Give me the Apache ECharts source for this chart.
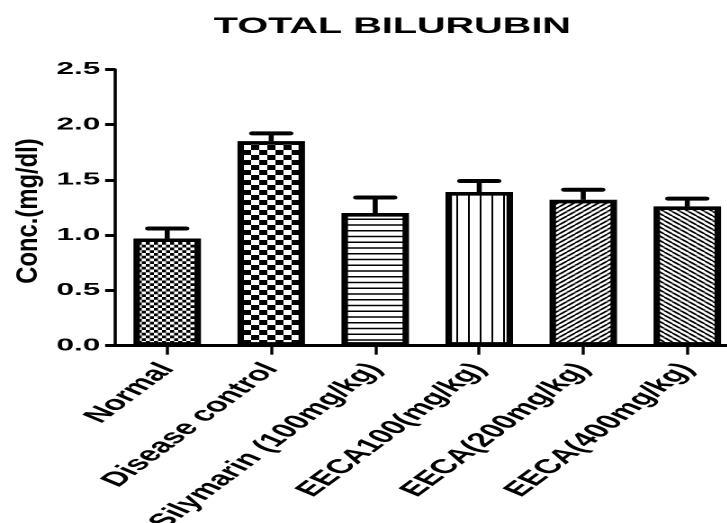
<!DOCTYPE html>
<html>
<head>
<meta charset="utf-8">
<script src="https://cdn.jsdelivr.net/npm/echarts@6/dist/echarts.min.js"></script>
<style>
  html, body { margin: 0; padding: 0; background: #fff; overflow: hidden; width: 727px; height: 523px; }
  #wrap { width: 727px; height: 523px; overflow: hidden; position: relative; }
  /* the figure is laid out narrow and widened horizontally, like the exported Prism graph */
  #chart { width: 420px; height: 523px; transform: scaleX(1.8); transform-origin: 0 0; }
</style>
</head>
<body>
<div id="wrap"><div id="chart"></div></div>
<script>
// Group names along the x axis
const categories = [
  'Normal',
  'Disease control',
  'Silymarin (100mg/kg)',
  'EECA100(mg/kg)',
  'EECA(200mg/kg)',
  'EECA(400mg/kg)'
];
// Mean total bilirubin, mg/dl
const meanValues = [0.97, 1.85, 1.20, 1.39, 1.32, 1.26];
// Upper error (SEM), mg/dl
const semValues = [0.09, 0.07, 0.14, 0.10, 0.09, 0.07];
// Value-axis range and step
const yMin = 0;
const yMax = 2.5;
const yStep = 0.5;

const FONT = "'Liberation Sans', Arial, Helvetica, sans-serif";
const R = 4; // tile supersampling

function tile(w, h, draw) {
  const c = document.createElement('canvas');
  c.width = Math.round(w * R);
  c.height = Math.round(h * R);
  const ctx = c.getContext('2d');
  ctx.fillStyle = '#fff';
  ctx.fillRect(0, 0, c.width, c.height);
  ctx.fillStyle = '#000';
  ctx.strokeStyle = '#000';
  draw(ctx, c.width, c.height);
  return { image: c, repeat: 'repeat', scaleX: 1 / R, scaleY: 1 / R };
}

function checker(cw, ch) {
  return tile(cw * 2, ch * 2, (ctx, W, H) => {
    ctx.fillRect(0, 0, W / 2, H / 2);
    ctx.fillRect(W / 2, H / 2, W / 2, H / 2);
  });
}
function hLines(period, thick) {
  return tile(2, period, (ctx, W, H) => { ctx.fillRect(0, 0, W, thick * R); });
}
function vLines(period, thick) {
  return tile(period, 2, (ctx, W, H) => { ctx.fillRect(0, 0, thick * R, H); });
}
function diag(period, thick, rising) {
  return tile(period, period, (ctx, W, H) => {
    ctx.lineWidth = thick * R;
    ctx.beginPath();
    for (let k = -1; k <= 1; k++) {
      if (rising) { ctx.moveTo(k * W, H); ctx.lineTo(k * W + W, 0); }
      else { ctx.moveTo(k * W, 0); ctx.lineTo(k * W + W, H); }
    }
    ctx.stroke();
  });
}

const fills = [
  checker(2.25, 2.75),
  checker(4.5, 5),
  hLines(5.75, 1.5),
  vLines(6.5, 1.0),
  diag(4.5, 1.4, true),
  diag(4.5, 1.4, false)
];

const chart = echarts.init(document.getElementById('chart'), null, { renderer: 'canvas', devicePixelRatio: 2 });

const barData = meanValues.map((v, i) => ({
  value: v,
  itemStyle: { color: fills[i], borderColor: '#000', borderWidth: 3.6 }
}));
const errData = meanValues.map((v, i) => [i, v, v + semValues[i]]);

chart.setOption({
  animation: false,
  backgroundColor: '#fff',
  title: {
    text: 'TOTAL BILURUBIN',
    left: 213,
    top: 11,
    textAlign: 'center',
    textStyle: { fontFamily: FONT, fontWeight: 'bold', fontSize: 22, color: '#000' }
  },
  graphic: [{
    type: 'text',
    x: 16,
    y: 211,
    rotation: Math.PI / 2,
    scaleX: 1.4,
    style: {
      text: 'Conc.(mg/dl)',
      fontFamily: FONT,
      fontWeight: 'bold',
      fontSize: 17,
      fill: '#000',
      textAlign: 'center',
      textVerticalAlign: 'middle',
      verticalAlign: 'middle'
    }
  }],
  grid: {
    left: 64, right: 9.3, top: 69.3, bottom: 177.3,
    containLabel: false,
    outerBoundsMode: 'none'
  },
  xAxis: {
    type: 'category',
    data: categories,
    axisLine: { lineStyle: { color: '#000', width: 3 } },
    axisTick: { show: true, alignWithLabel: true, length: 9, lineStyle: { color: '#000', width: 1.7 } },
    axisLabel: {
      rotate: 53,
      margin: 20,
      interval: 0,
      fontFamily: FONT,
      fontWeight: 'bold',
      fontSize: 20,
      color: '#000'
    },
    splitLine: { show: false }
  },
  yAxis: {
    type: 'value',
    min: yMin,
    max: yMax,
    interval: yStep,
    axisLine: { show: true, lineStyle: { color: '#000', width: 1.8 } },
    axisTick: { show: true, length: 5.6, lineStyle: { color: '#000', width: 3 } },
    axisLabel: {
      margin: 8.3,
      fontFamily: FONT,
      fontWeight: 'bold',
      fontSize: 17.5,
      color: '#000',
      formatter: v => v.toFixed(1)
    },
    splitLine: { show: false }
  },
  series: [
    {
      type: 'bar',
      data: barData,
      barWidth: 37.5,
      z: 2
    },
    {
      type: 'custom',
      data: errData,
      z: 3,
      renderItem: (params, api) => {
        const base = api.coord([api.value(0), api.value(1)]);
        const top = api.coord([api.value(0), api.value(2)]);
        const half = 10.3;
        return {
          type: 'group',
          children: [
            { type: 'line', shape: { x1: base[0], y1: base[1], x2: top[0], y2: top[1] },
              style: { stroke: '#000', lineWidth: 2.8 } },
            { type: 'line', shape: { x1: top[0] - half, y1: top[1], x2: top[0] + half, y2: top[1] },
              style: { stroke: '#000', lineWidth: 4, lineCap: 'round' } }
          ]
        };
      }
    }
  ]
});
</script>
</body>
</html>
